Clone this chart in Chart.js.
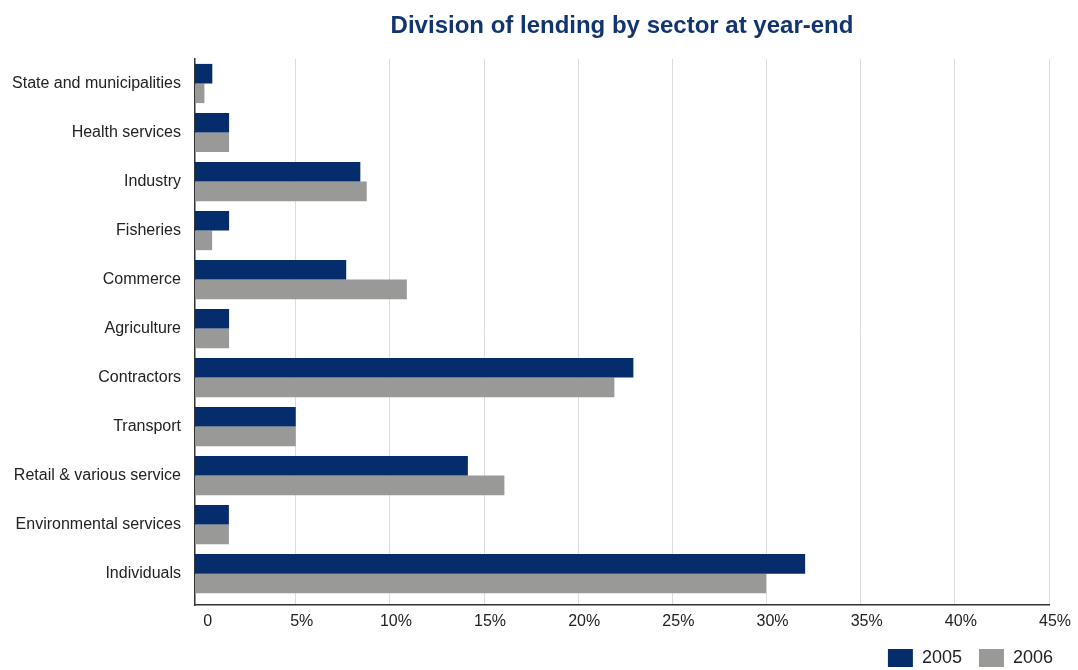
<!DOCTYPE html>
<html><head><meta charset="utf-8">
<script src="https://cdn.jsdelivr.net/npm/chart.js@4"></script>
<style>html,body{margin:0;padding:0;background:#fff;overflow:hidden}#wrap{width:1078px;height:670px;position:relative;overflow:hidden}</style>
</head><body><div id="wrap"><canvas id="c" width="1078" height="677"></canvas></div>
<script>
const chartTitle = 'Division of lending by sector at year-end';
const categories = ['State and municipalities','Health services','Industry','Fisheries','Commerce','Agriculture','Contractors','Transport','Retail & various service','Environmental services','Individuals'];
const seriesNames = ['2005','2006'];
const values2005 = [0.57, 1.46, 8.43, 1.46, 7.68, 1.46, 22.93, 5.0, 14.14, 1.45, 32.05];
const values2006 = [0.15, 1.46, 8.77, 0.56, 10.9, 1.46, 21.92, 5.0, 16.08, 1.45, 29.98];
const xTickValues = [0, 5, 10, 15, 20, 25, 30, 35, 40, 45];
const xMin = -0.35, xMax = 45, xStep = 5;

const FONT = '"Liberation Sans", Arial, sans-serif';

const titlePlugin = {
  id: 'centeredTitle',
  afterLayout(chart) {
    if (chart.legend) { chart.legend.right = chart.width - 8; }
  },
  afterDraw(chart) {
    const ctx = chart.ctx, a = chart.chartArea;
    ctx.save();
    ctx.font = 'bold 24px ' + FONT;
    ctx.fillStyle = '#123471';
    ctx.textAlign = 'center';
    ctx.textBaseline = 'middle';
    ctx.fillText(chartTitle, (a.left + a.right) / 2, 26);
    ctx.restore();
  }
};

new Chart(document.getElementById('c'), {
  type: 'bar',
  data: {
    labels: categories,
    datasets: [
      { label: seriesNames[0], data: values2005, base: xMin, backgroundColor: '#062d6b', borderWidth: 0, categoryPercentage: 0.8, barPercentage: 1.0 },
      { label: seriesNames[1], data: values2006, base: xMin, backgroundColor: '#999997', borderWidth: 0, categoryPercentage: 0.8, barPercentage: 1.0 }
    ]
  },
  options: {
    indexAxis: 'y',
    responsive: false,
    animation: false,
    devicePixelRatio: 1,
    layout: { padding: { top: 59, right: 29, left: 8, bottom: 0 } },
    plugins: {
      title: { display: false },
      tooltip: { enabled: false },
      legend: {
        position: 'bottom',
        align: 'end',
        labels: {
          boxWidth: 25, boxHeight: 18, padding: 17,
          color: '#222',
          font: { family: FONT, size: 18 }
        }
      }
    },
    scales: {
      x: {
        min: xMin, max: xMax,
        ticks: {
          includeBounds: false,
          stepSize: xStep,
          color: '#222',
          padding: 7,
          labelOffset: 6,
          font: { family: FONT, size: 16 },
          callback: v => v === 0 ? '0' : v + '%'
        },
        afterBuildTicks(scale) { scale.ticks = xTickValues.map(v => ({ value: v })); },
        grid: {
          color: c => (c.tick && c.tick.value === 0) ? 'rgba(0,0,0,0)' : '#dcdcdc',
          lineWidth: 1, drawTicks: false
        },
        border: { color: '#333', width: 1.5 },
        afterFit(scale) { scale.height = 27; }
      },
      y: {
        ticks: {
          color: '#222',
          padding: 14,
          font: { family: FONT, size: 16 }
        },
        grid: { display: false, drawTicks: false },
        border: { color: '#333', width: 1.5 },
        afterBuildTicks(scale) { scale._valueRange = 11.14; },
        afterFit(scale) { scale.width = 187; }
      }
    }
  },
  plugins: [titlePlugin]
});
</script>
</body></html>
